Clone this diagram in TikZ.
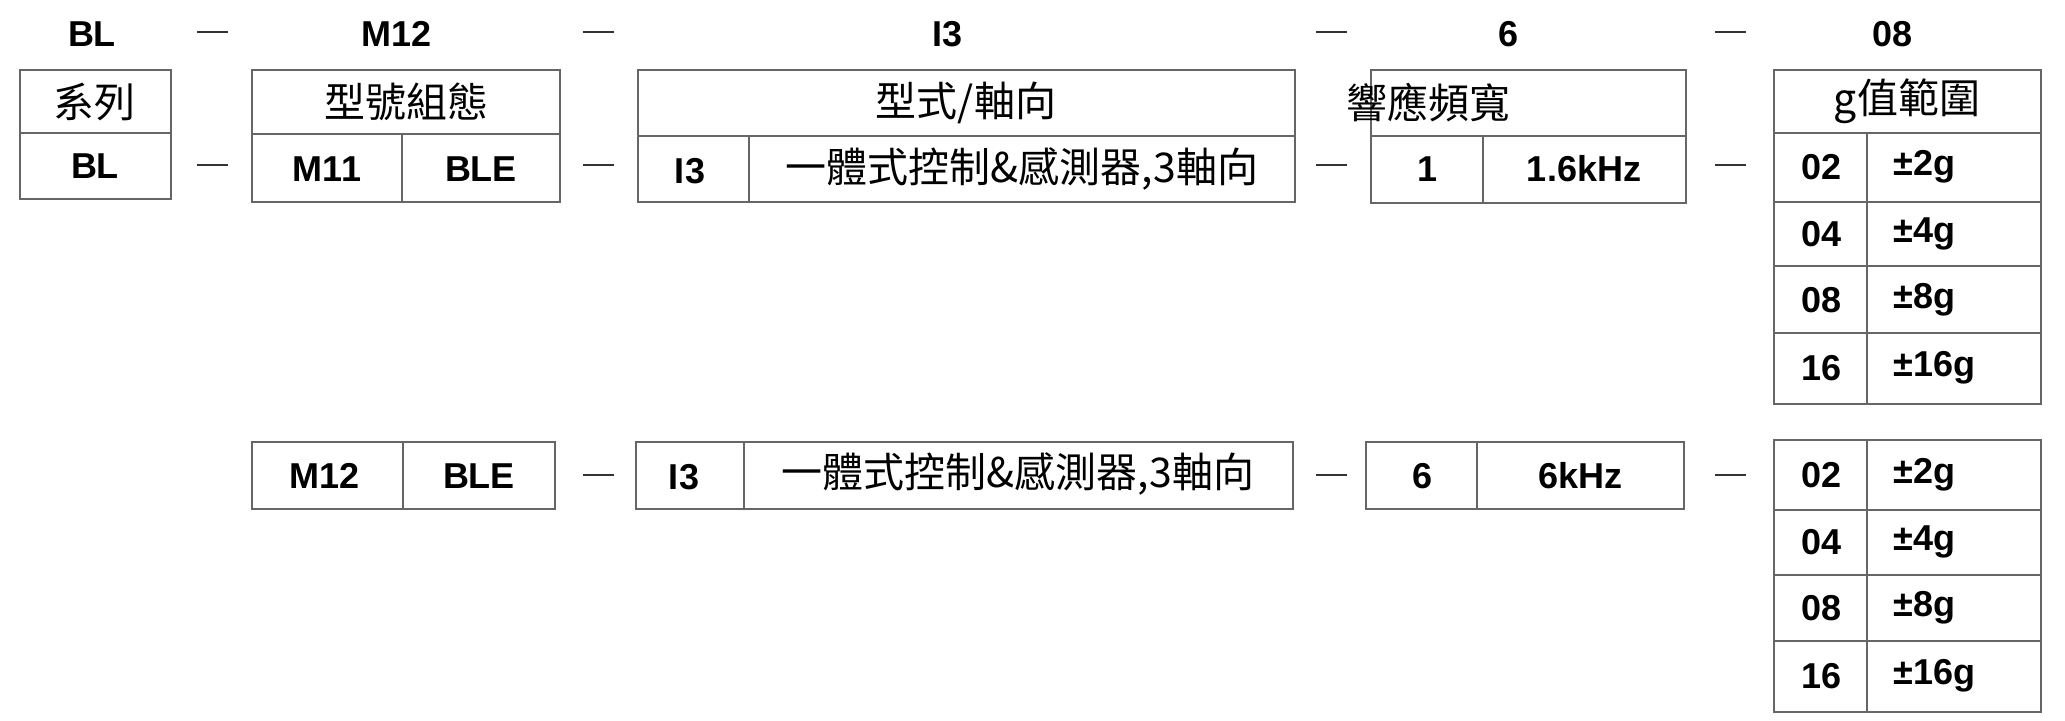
\documentclass[tikz,border=0pt]{standalone}
\usepackage{fontspec}
\setmainfont{Liberation Sans}
\newfontfamily\cjk{Noto Sans CJK TC}
\begin{document}
\begin{tikzpicture}[x={(0.5pt,0)},y={(0,-0.5pt)},
  box/.style={draw=black!60,line width=1.1pt},
  lat/.style={font=\fontsize{18}{18}\selectfont\bfseries,inner sep=0pt},
  han/.style={font=\fontsize{20.5}{20.5}\selectfont\cjk,inner sep=0pt},
  sep/.style={line width=1pt,black!80}]
\useasboundingbox[fill=white] (0,0) rectangle (2065,721);
% header
\node[lat] (hBL) at (92,34) {BL};
\node[lat] (hM) at (397,34) {M12};
\node[lat] (hI) at (947,34) {I3};
\node[lat] (h6) at (1508,34) {6};
\node[lat] (h08) at (1892,34) {08};
\foreach \a/\b in {197/228,583/614,1316/1347,1715/1746}{
  \draw[sep] (\a,32) -- (\b,32);
  \draw[sep] (\a,165) -- (\b,165);}
\foreach \a/\b in {583/614,1316/1347,1715/1746}
  \draw[sep] (\a,475) -- (\b,475);
% row 1 boxes
\draw[box] (20,70) rectangle (171,199); \draw[box] (20,133) -- (171,133);
\draw[box] (252,70) rectangle (560,202); \draw[box] (252,134) -- (560,134); \draw[box] (402,134) -- (402,202);
\draw[box] (638,70) rectangle (1295,202); \draw[box] (638,136) -- (1295,136); \draw[box] (749,136) -- (749,202);
\draw[box] (1371,70) rectangle (1686,203); \draw[box] (1371,136) -- (1686,136); \draw[box] (1483,136) -- (1483,203);
\draw[box] (1774,70) rectangle (2041,404);
\foreach \y in {133,202,266,333} \draw[box] (1774,\y) -- (2041,\y);
\draw[box] (1867,133) -- (1867,404);
% row 1 text
\node[han] (s1) at (95,102) {系列};
\node[lat] (s2) at (95,166) {BL};
\node[han] (m0) at (406,102) {型號組態};
\node[lat] (m1) at (327,169) {M11};
\node[lat] (m2) at (481,169) {BLE};
\node[han] (t0) at (966,103) {型式/軸向};
\node[lat] (t1) at (690,171) {I3};
\node[han] (t2) at (1022,169) {一體式控制\&感測器,3軸向};
\node[han] (f0) at (1428,103) {響應頻寬};
\node[lat] (f1) at (1427,169) {1};
\node[lat] (f2) at (1584,169) {1.6kHz};
\node[han] (g0) at (1907,101) {g值範圍};
\foreach \y/\c/\v/\n in {167/02/2/a,234/04/4/b,300/08/8/c,368/16/16/d}{
  \node[lat] (ga\n) at (1821,\y) {\c};
  \node[lat,anchor=west] (gb\n) at (1893,\y) {±\v g};}
% row 2 boxes
\draw[box] (252,442) rectangle (555,509); \draw[box] (403,442) -- (403,509);
\draw[box] (636,442) rectangle (1293,509); \draw[box] (744,442) -- (744,509);
\draw[box] (1366,442) rectangle (1684,509); \draw[box] (1477,442) -- (1477,509);
\draw[box] (1774,440) rectangle (2041,712);
\foreach \y in {510,575,641} \draw[box] (1774,\y) -- (2041,\y);
\draw[box] (1867,440) -- (1867,712);
\node[lat] (n1) at (325,476) {M12};
\node[lat] (n2) at (479,476) {BLE};
\node[lat] (n3) at (684,477) {I3};
\node[han] (n4) at (1018,474) {一體式控制\&感測器,3軸向};
\node[lat] (n5) at (1422,476) {6};
\node[lat] (n6) at (1580,476) {6kHz};
\foreach \y/\c/\v/\n in {475/02/2/a,542/04/4/b,608/08/8/c,676/16/16/d}{
  \node[lat] (ha\n) at (1821,\y) {\c};
  \node[lat,anchor=west] (hb\n) at (1893,\y) {±\v g};}
\end{tikzpicture}
\end{document}
